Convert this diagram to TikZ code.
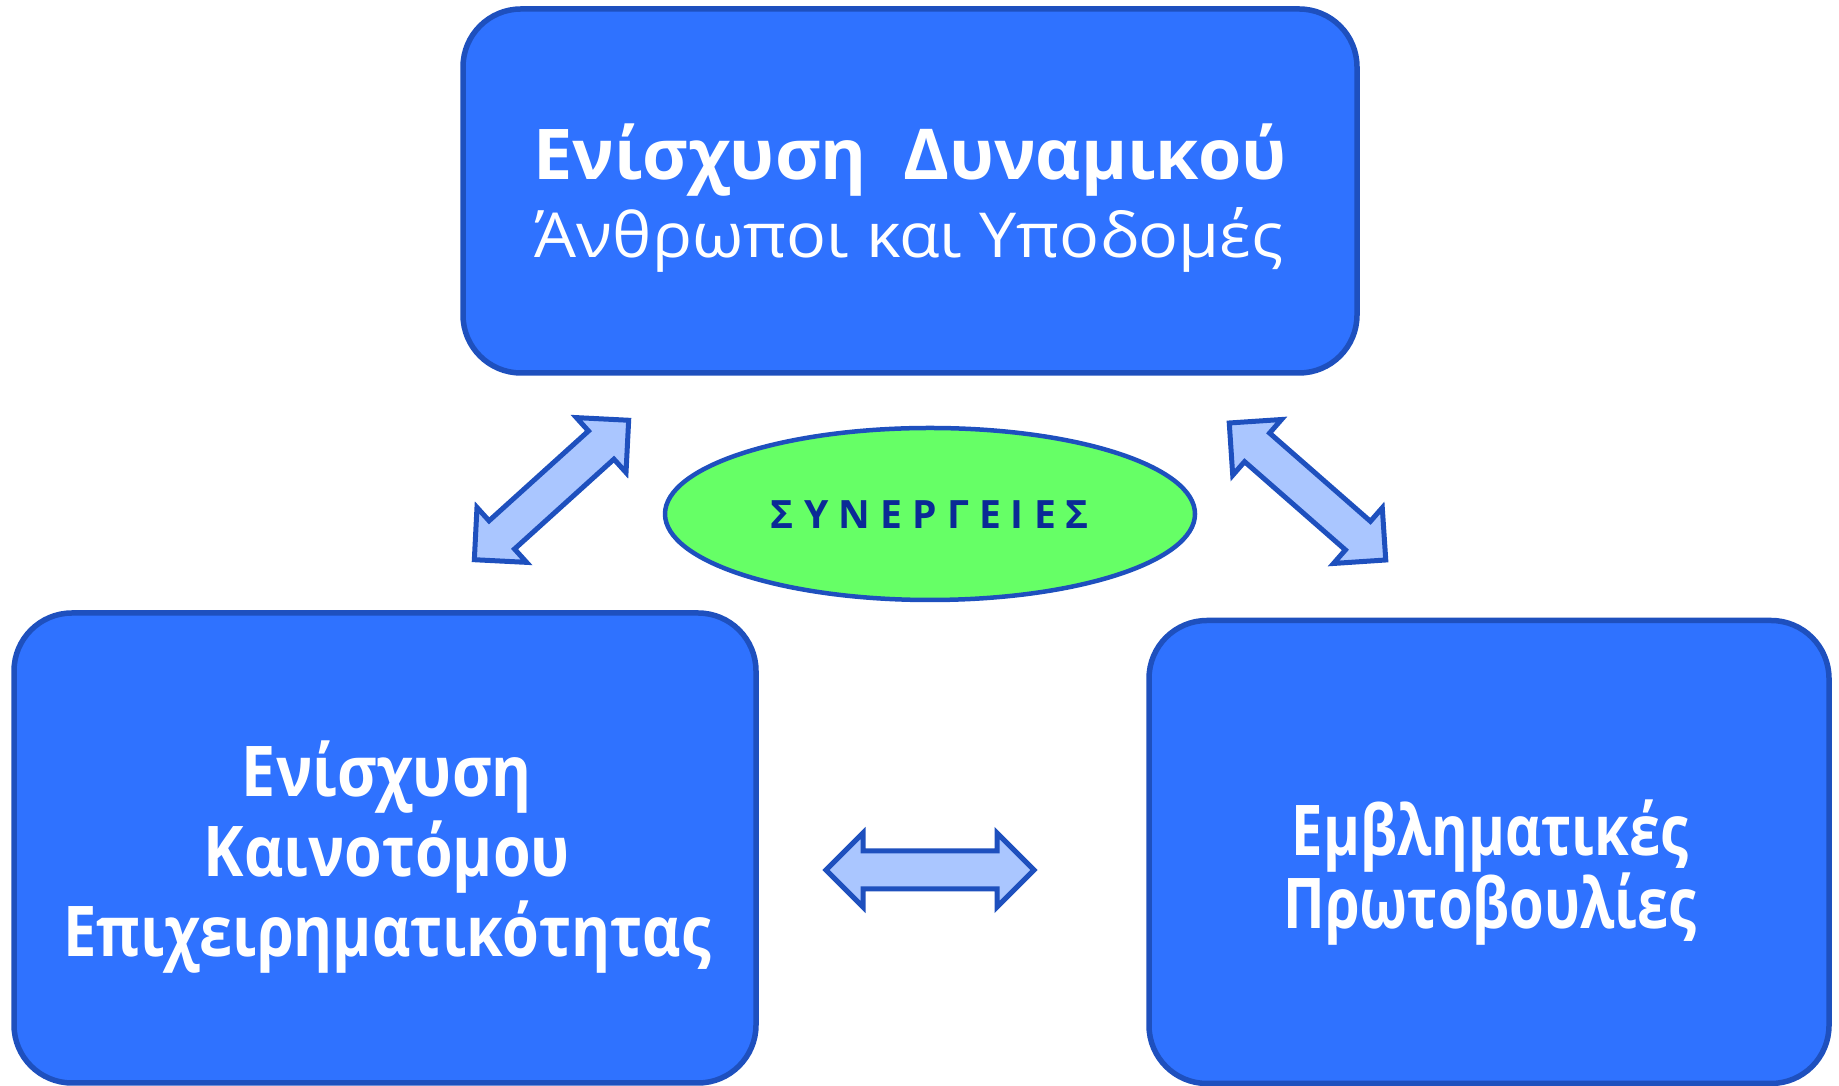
\documentclass[tikz,border=0pt]{standalone}
\usepackage{fontspec}
\setmainfont{Open Sans}
\newfontfamily\dynfont{Open Sans}[FakeStretch=1.07]
\newfontfamily\innfont{Open Sans}[FakeStretch=0.87]
\newfontfamily\longfont{Open Sans}[FakeStretch=0.85]
\newfontfamily\embfont{Open Sans}[FakeStretch=0.80]
\usetikzlibrary{shapes.geometric,shapes.arrows}
\definecolor{boxfill}{RGB}{47,114,255}
\definecolor{edge}{RGB}{30,80,190}
\definecolor{synfill}{RGB}{102,255,102}
\definecolor{arrfill}{RGB}{170,198,255}
\definecolor{syntext}{RGB}{10,42,150}

\begin{document}
\begin{tikzpicture}[x=1pt, y=1pt,
  box/.style={draw=edge, fill=boxfill, line width=5.5pt, rounded corners=58pt, inner sep=0pt},
  dbl/.style={double arrow, draw=edge, fill=arrfill, line width=5pt, inner xsep=0pt, inner ysep=16.5pt,
    double arrow head extend=18pt, minimum height=208pt, minimum width=0pt},
  big/.style={text=white, anchor=base, font=\bfseries\fontsize{70}{80}\selectfont},
  thin/.style={text=white, anchor=base, font=\dynfont\fontsize{62}{70}\selectfont}]
  \useasboundingbox (0,0) rectangle (1839,1086);

  % boxes
  \node (dyn) [box, minimum width=894pt, minimum height=364pt] at (910,895) {};
  \node (inn) [box, minimum width=742pt, minimum height=470pt] at (385,238) {};
  \node (emb) [box, minimum width=680pt, minimum height=463pt] at (1489,234) {};

  % texts
  \node (dyn1) [big] at (910,906) {Ενίσχυση\ \ Δυναμικού};
  \node (dyn2) [thin] at (909,828) {Άνθρωποι και Υποδομές};
  \node (inn1) [big, font=\innfont\bfseries\fontsize{70}{80}\selectfont] at (387,289) {Ενίσχυση};
  \node (inn2) [big, font=\innfont\bfseries\fontsize{70}{80}\selectfont] at (387,209) {Καινοτόμου};
  \node (inn3) [big, font=\longfont\bfseries\fontsize{70}{80}\selectfont] at (387,129) {Επιχειρηματικότητας};
  \node (emb1) [big, font=\embfont\bfseries\fontsize{70}{80}\selectfont] at (1490,230) {Εμβληματικές};
  \node (emb2) [big, font=\embfont\bfseries\fontsize{70}{80}\selectfont] at (1490,157) {Πρωτοβουλίες};

  % synergies
  \node (syn) [ellipse, draw=edge, fill=synfill, line width=4.5pt, minimum width=530pt, minimum height=172pt] at (930,572) {};
  \node (syntx) [anchor=base, text=syntext, font=\bfseries\fontsize{39}{40}\selectfont] at (930,557) {Σ Υ Ν Ε Ρ Γ Ε Ι Ε Σ};

  % arrows
  \node (a1) [dbl, rotate=42.1] at (551.5,596) {};
  \node (a2) [dbl, rotate=-41.2] at (1307.5,594.5) {};
  \node (a3) [dbl] at (930,216) {};
\end{tikzpicture}
\end{document}
